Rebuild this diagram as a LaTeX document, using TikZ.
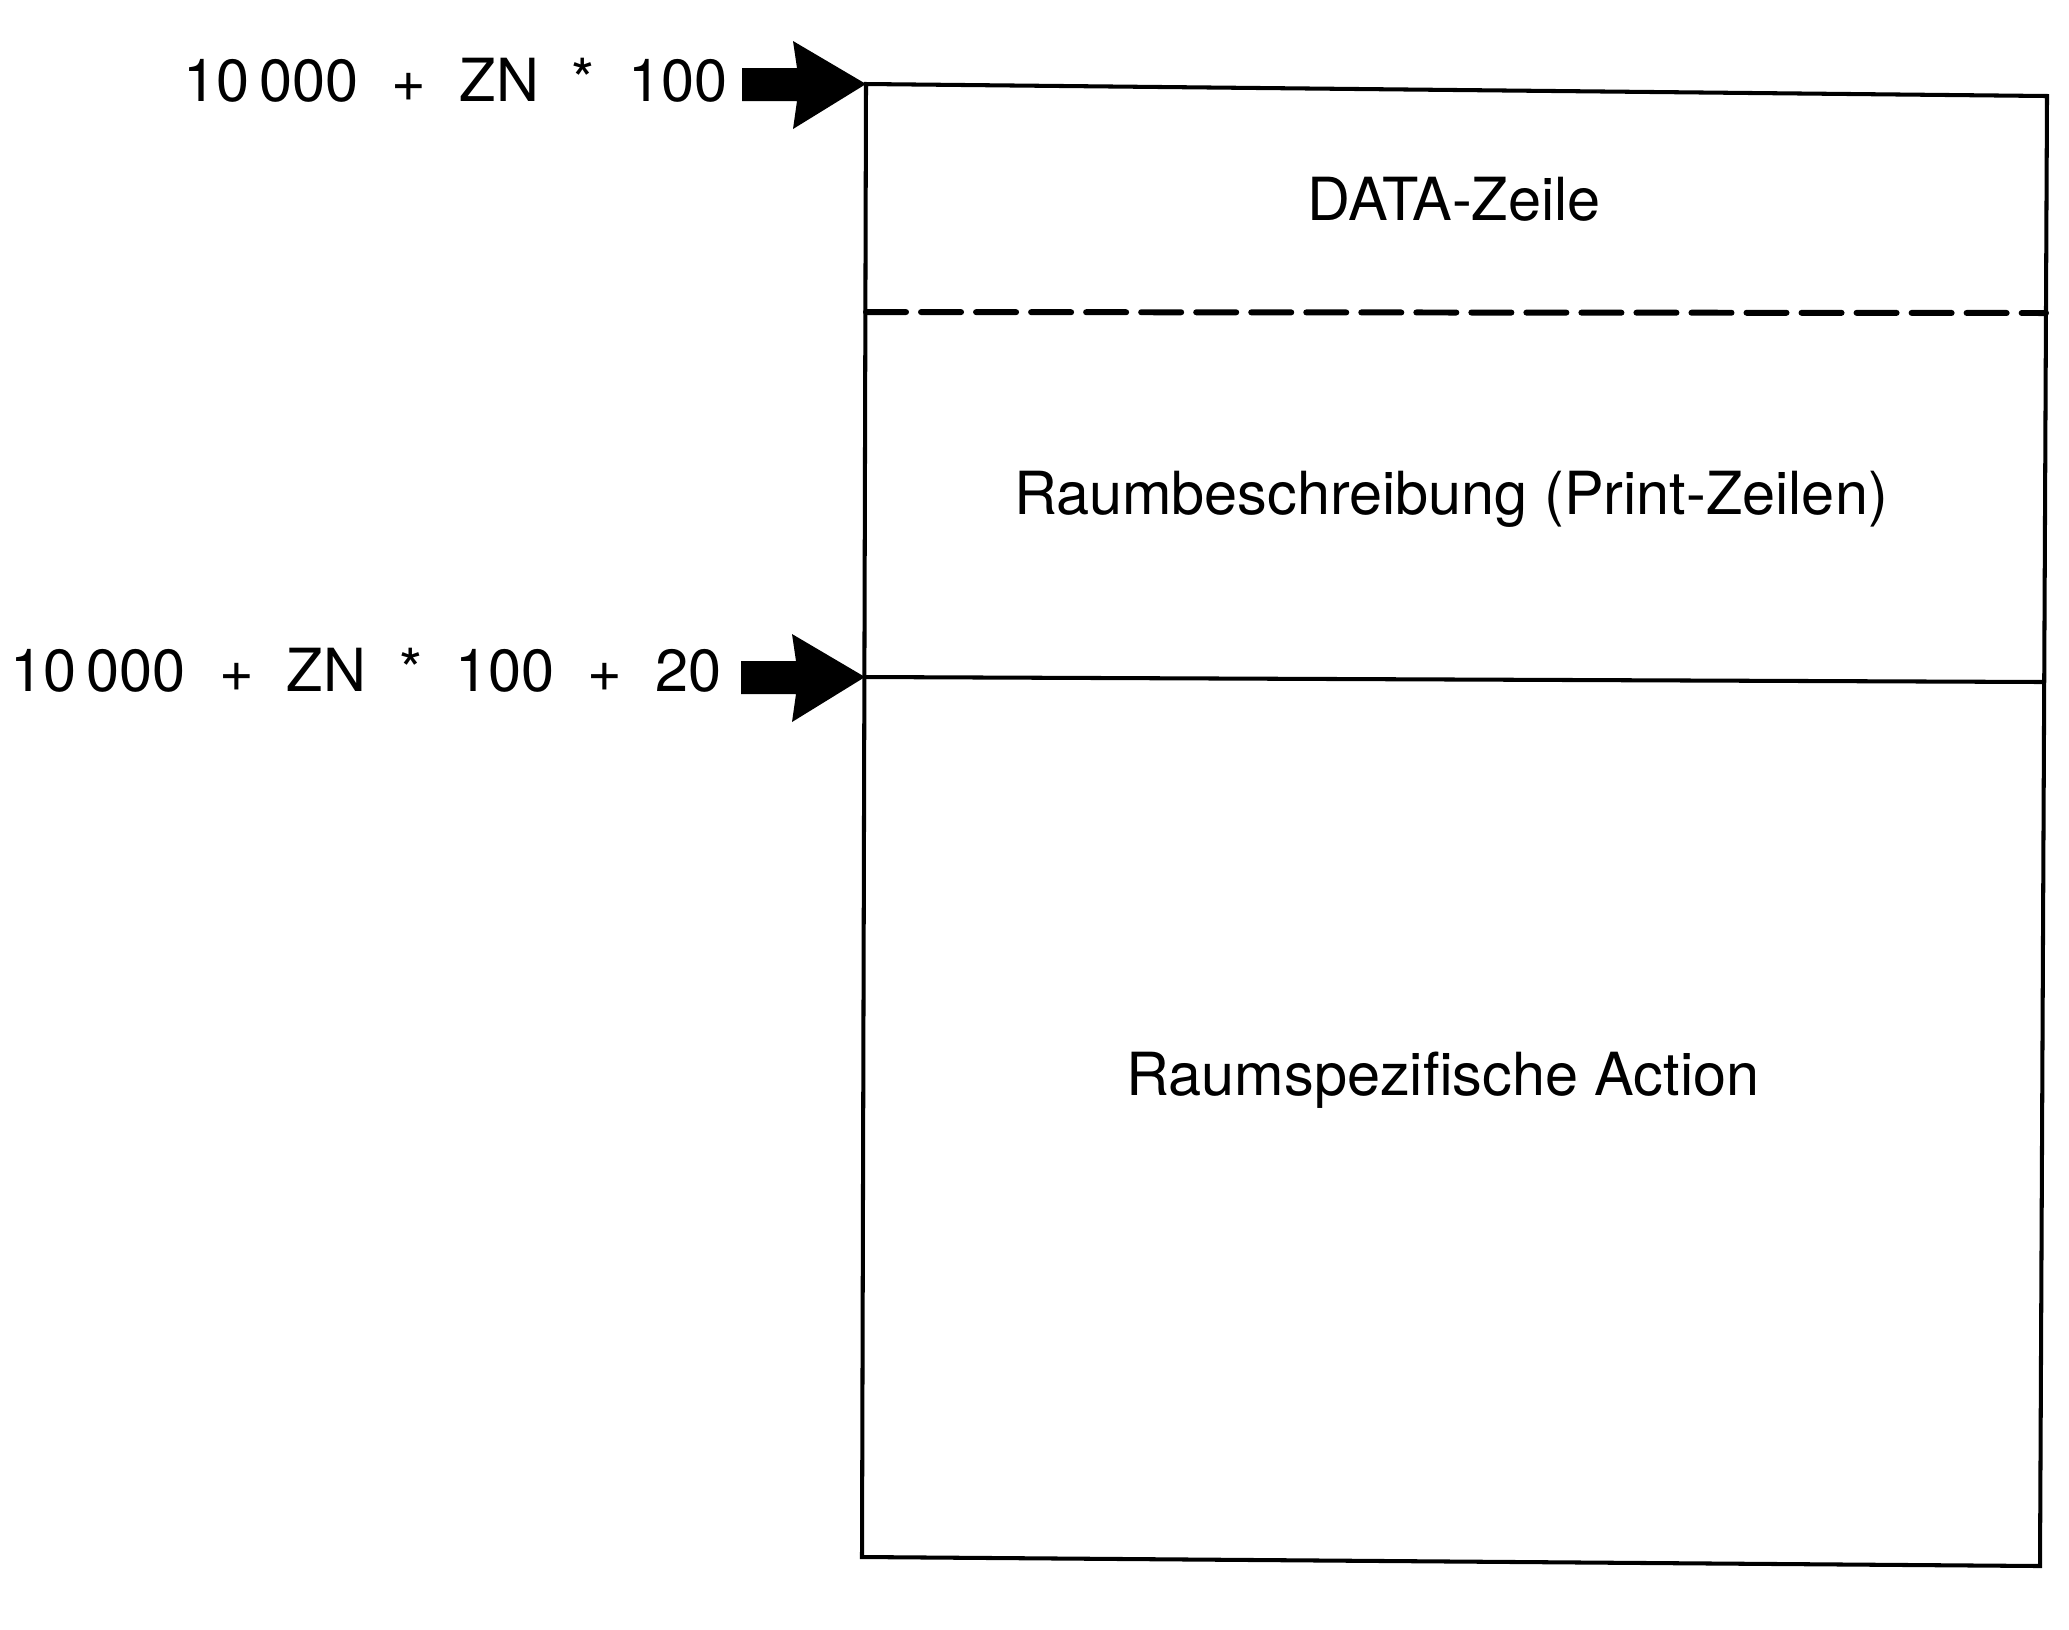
\documentclass[tikz,border=0pt]{standalone}
\usepackage{fontspec}
\setmainfont{TeX Gyre Heros}
\usetikzlibrary{calc}
\tikzset{
  boxline/.style={line width=1.15pt, line join=miter},
  sepdash/.style={line width=1.7pt, dash pattern=on 0.40cm off 0.15cm, line cap=round},
  lbl/.style={font=\fontsize{16.9}{20}\selectfont, inner sep=0pt},
  arrowshape/.style={fill=black, draw=none}
}
\newcommand{\bigarrow}[1]{%
  \fill[arrowshape, shift={(#1)}] (-124,-16) -- (-69,-16) -- (-73,-43) -- (0,0) -- (-73,45) -- (-69,17) -- (-124,17) -- cycle;}
\begin{document}
\begin{tikzpicture}[x=0.01cm, y=-0.01cm]
\useasboundingbox (0,0) rectangle (2069,1629);
% box corners
\coordinate (tl) at (866,84);
\coordinate (tr) at (2047,96);
\coordinate (br) at (2040,1566);
\coordinate (bl) at (862,1557);
\coordinate (ml) at (865,677);
\coordinate (mr) at (2044,682);
\coordinate (dl) at (866,312);
\coordinate (dr) at (2046,313);
\draw[boxline] (tl) -- (tr) -- (br) -- (bl) -- cycle;
\draw[boxline] (ml) -- (mr);
\draw[sepdash] (dl) -- (dr);
% texts
\node[lbl, anchor=base] (data) at (1454,220) {DATA-Zeile};
\node[lbl, anchor=base] (raum) at (1451,514) {Raumbeschreibung (Print-Zeilen)};
\node[lbl, anchor=base] (action) at (1443,1095) {Raumspezifische Action};
\node[lbl, anchor=base east] (l1) at (728,101) {10\,000 \ + \ ZN \ * \ 100};
\node[lbl, anchor=base east] (l2) at (722,691) {10\,000 \ + \ ZN \ * \ 100 \ + \ 20};
% arrows
\bigarrow{tl}
\bigarrow{ml}
\end{tikzpicture}
\end{document}
